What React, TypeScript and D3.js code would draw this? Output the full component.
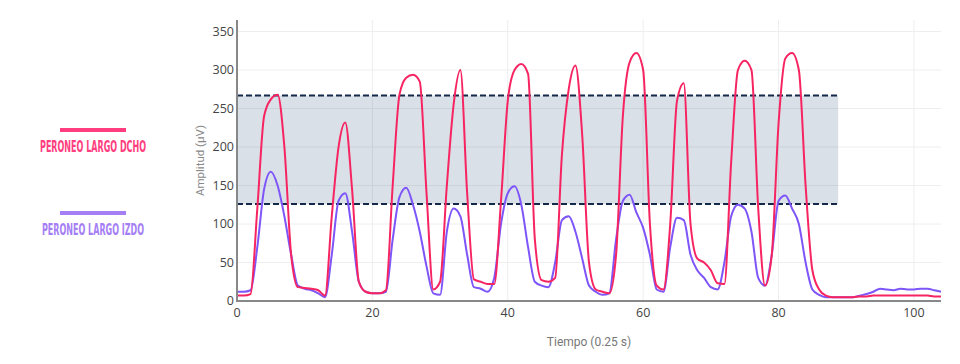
import { useEffect } from 'react';
import * as d3 from 'd3';

// muestras cada 0.25 s
const tiempo: number[] = d3.range(0, 105);

const dcho: number[] = [
  7, 7, 9, 120, 240, 262, 268, 200, 60, 18,
  17, 16, 14, 7, 110, 200, 232, 145, 25, 12,
  10, 10, 14, 150, 268, 290, 294, 285, 140, 15,
  25, 150, 255, 300, 140, 28, 25, 22, 22, 130,
  260, 300, 308, 295, 80, 27, 25, 30, 190, 275,
  306, 215, 50, 15, 12, 10, 60, 240, 310, 322,
  300, 100, 20, 15, 100, 260, 283, 100, 55, 50,
  40, 23, 22, 180, 300, 312, 300, 120, 20, 60,
  230, 315, 322, 300, 150, 40, 15, 7, 5, 5,
  5, 5, 6, 6, 7, 7, 7, 7, 7, 7,
  7, 7, 7, 6, 6,
];

const izdo: number[] = [
  12, 12, 14, 70, 145, 168, 150, 110, 60, 20,
  16, 14, 10, 5, 60, 130, 140, 90, 25, 12,
  10, 10, 12, 80, 135, 147, 125, 90, 45, 10,
  8, 90, 120, 110, 60, 18, 16, 12, 30, 100,
  140, 149, 125, 70, 25, 20, 18, 50, 105, 110,
  90, 55, 20, 12, 8, 10, 80, 130, 138, 115,
  95, 60, 15, 12, 70, 108, 105, 60, 40, 30,
  18, 15, 50, 110, 125, 120, 90, 30, 20, 60,
  130, 137, 120, 100, 50, 15, 8, 5, 5, 5,
  5, 5, 7, 9, 12, 16, 15, 14, 16, 15,
  15, 16, 16, 14, 12,
];

const bandaMin = 126;
const bandaMax = 267;
const bandaFin = 88.8;

const yTicks: number[] = [0, 50, 100, 150, 200, 250, 300, 350];
const xTicks: number[] = [0, 20, 40, 60, 80, 100];

const series = [
  { label: 'PERONEO LARGO DCHO', values: dcho, color: '#f72462', legendColor: '#ff3d7f' },
  { label: 'PERONEO LARGO IZDO', values: izdo, color: '#7d55f8', legendColor: '#a57ef4' },
];

const W = 960;
const H = 364;
const M = { left: 237, right: 19, top: 20, bottom: 63 };

export default function App(): React.JSX.Element {
  useEffect(() => {
    document.body.style.margin = '0';
  }, []);

  const x = d3.scaleLinear().domain([0, 104]).range([M.left, W - M.right]);
  const y = d3.scaleLinear().domain([0, 365]).range([H - M.bottom, M.top]);

  const line = d3.line<number>()
    .x((_, i) => x(tiempo[i]))
    .y(d => y(d))
    .curve(d3.curveMonotoneX);

  const font = '"Open Sans", "DejaVu Sans", sans-serif';
  const titleFont = 'Roboto, "Open Sans", sans-serif';
  const legendFont = '"Liberation Sans Narrow", "DejaVu Sans Condensed", sans-serif';
  const yTitleY = (M.top + H - M.bottom) / 2;

  return (
    <svg width={W} height={H} style={{ display: 'block', background: '#fff' }}>
      {/* grid */}
      {yTicks.filter(t => t > 0).map(t => (
        <line key={'gy' + t} x1={M.left} x2={W - M.right} y1={y(t)} y2={y(t)} stroke="#eeeeee" strokeWidth={1} />
      ))}
      {xTicks.filter(t => t > 0).map(t => (
        <line key={'gx' + t} x1={x(t)} x2={x(t)} y1={M.top} y2={H - M.bottom} stroke="#eeeeee" strokeWidth={1} />
      ))}

      {/* banda de referencia */}
      <rect
        x={x(0)}
        y={y(bandaMax)}
        width={x(bandaFin) - x(0)}
        height={y(bandaMin) - y(bandaMax)}
        fill="rgba(48,84,120,0.18)"
      />
      <line x1={x(0)} x2={x(bandaFin)} y1={y(bandaMax)} y2={y(bandaMax)} stroke="#14294a" strokeWidth={2} strokeDasharray="6,3" />
      <line x1={x(0)} x2={x(bandaFin)} y1={y(bandaMin)} y2={y(bandaMin)} stroke="#14294a" strokeWidth={2} strokeDasharray="6,3" />

      {/* series */}
      {series.slice().reverse().map(s => (
        <path key={s.label} d={line(s.values) ?? ''} fill="none" stroke={s.color} strokeWidth={2} />
      ))}

      {/* ejes */}
      <line x1={M.left} x2={M.left} y1={M.top} y2={H - M.bottom + 1} stroke="#888" strokeWidth={2} />
      <line x1={M.left} x2={W - M.right} y1={H - M.bottom} y2={H - M.bottom} stroke="#888" strokeWidth={2} />

      {yTicks.map(t => (
        <text key={'ty' + t} x={M.left - 3} y={y(t)} dy="0.35em" textAnchor="end"
          fontFamily={font} fontSize={12.5} fill="#444">{t}</text>
      ))}
      {xTicks.map(t => (
        <text key={'tx' + t} x={x(t)} y={H - M.bottom + 16} textAnchor="middle"
          fontFamily={font} fontSize={12.5} fill="#444">{t}</text>
      ))}

      {/* título vertical, de abajo arriba */}
      <text x={200} y={yTitleY} transform={`rotate(180,200,${yTitleY})`} textAnchor="middle"
        style={{ writingMode: 'vertical-rl' }}
        fontFamily={titleFont} fontSize={11.5} fill="#888">Amplitud (µV)</text>
      <text x={(M.left + W - M.right) / 2} y={346} textAnchor="middle"
        fontFamily={titleFont} fontSize={12} fill="#777">Tiempo (0.25 s)</text>

      {/* leyenda */}
      {series.map((s, i) => {
        const ly = 130 + i * 83;
        return (
          <g key={'lg' + s.label}>
            <line x1={60} x2={126} y1={ly} y2={ly} stroke={s.legendColor} strokeWidth={4} />
            <text x={93} y={ly + 22} textAnchor="middle" fontFamily={legendFont} fontWeight="bold"
              fontSize={15} fill={s.legendColor} textLength={i === 0 ? 106 : 102} lengthAdjust="spacingAndGlyphs">
              {s.label}
            </text>
          </g>
        );
      })}
    </svg>
  );
}
